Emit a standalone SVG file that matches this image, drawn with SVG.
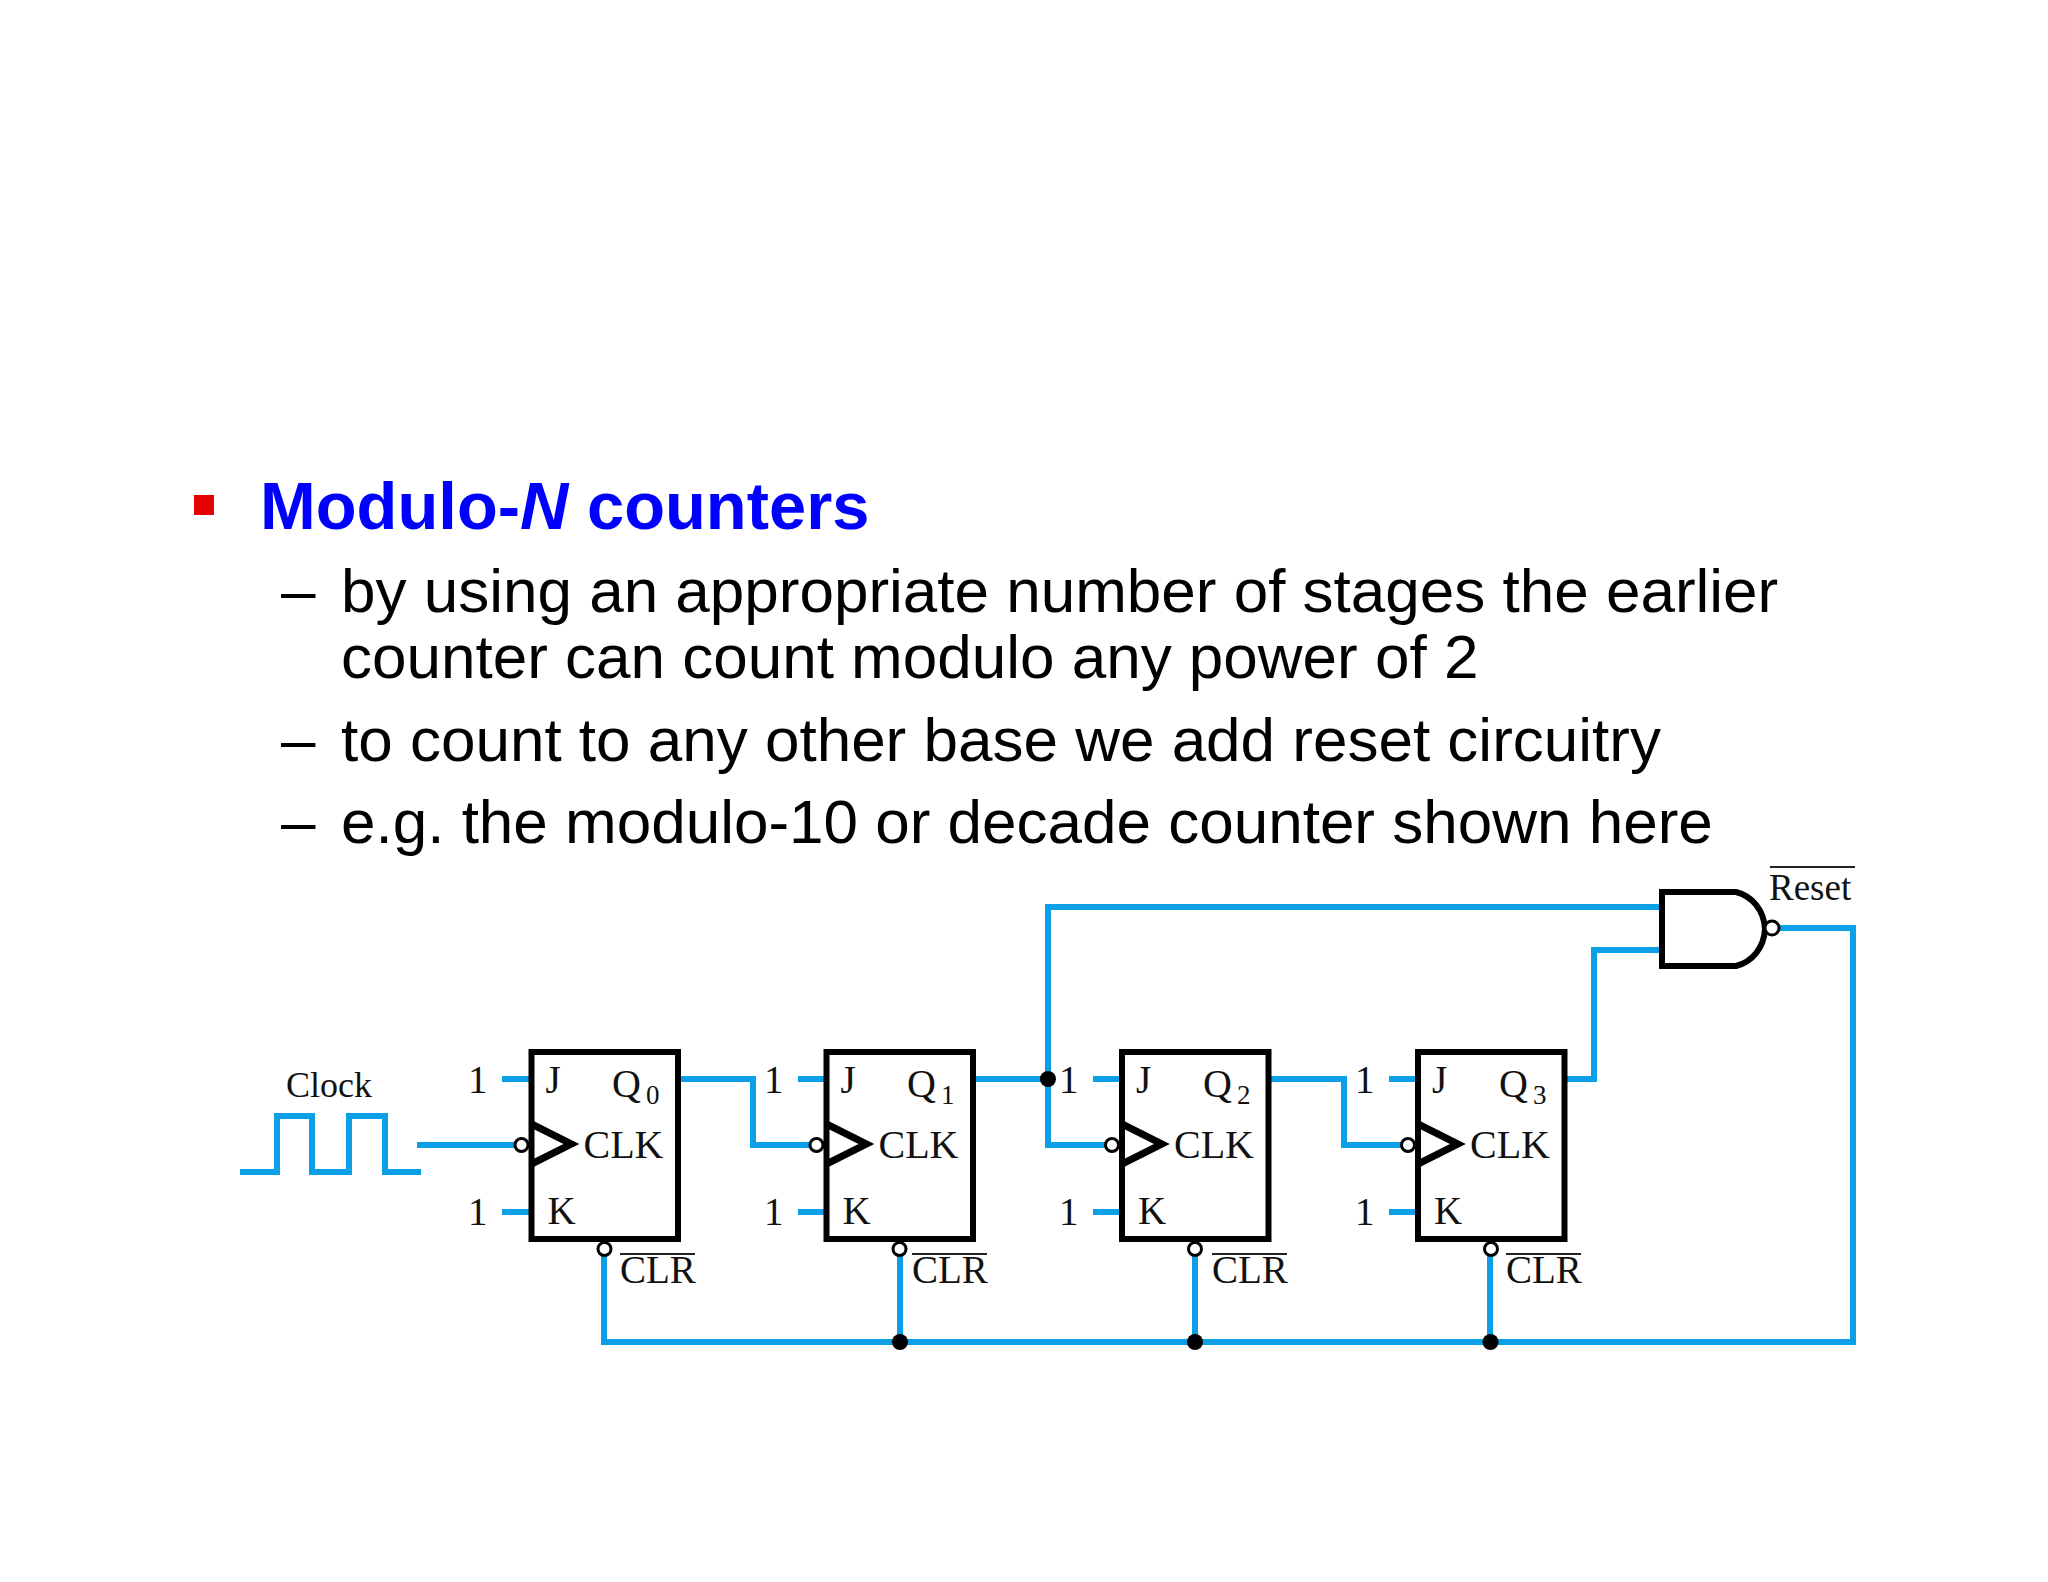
<svg xmlns="http://www.w3.org/2000/svg" xmlns:xlink="http://www.w3.org/1999/xlink" width="2048" height="1582" viewBox="0 0 2048 1582">
<style>
.h{font:bold 66.9px "Liberation Sans",Arial,sans-serif;fill:#0000ff}
.b{font:62px "Liberation Sans",Arial,sans-serif;fill:#000}
.s{font:39px "Liberation Serif","Times New Roman",serif;fill:#111}
.c{font:40px "Liberation Serif","Times New Roman",serif;fill:#111}
.l{font:36px "Liberation Serif","Times New Roman",serif;fill:#111}
.w{fill:none;stroke:#0a9fe6;stroke-width:6;stroke-linejoin:miter}
.k{fill:none;stroke:#000;stroke-width:6}
.bar{stroke:#222;stroke-width:2;fill:none}
.dot{fill:#000}
.bub{fill:#fff;stroke:#000;stroke-width:3}
</style>
<defs>
<g id="ff">
<rect class="k" x="0" y="0" width="146.500" height="187" fill="#fff"/>
<path class="k" d="M0 72 L40 92 L0 112" style="stroke-width:7"/>
<circle class="bub" cx="-10" cy="93" r="6.5"/>
<circle class="bub" cx="73" cy="197" r="6.500"/>
<text class="s" x="14" y="41">J</text>
<text class="c" x="52" y="106">CLK</text>
<text class="s" x="16" y="172">K</text>
</g>
</defs>
<rect width="2048" height="1582" fill="#fff"/>
<g id="text">
<rect x="194" y="495" width="20" height="20" fill="#e60000"/>
<text class="h" x="260" y="529">Modulo-<tspan font-style="italic">N</tspan> counters</text>
<text class="b" x="281" y="611.500">–</text>
<text class="b" x="341" y="611.500">by using an appropriate number of stages the earlier</text>
<text class="b" x="341" y="677.500">counter can count modulo any power of 2</text>
<text class="b" x="281" y="760.500">–</text>
<text class="b" x="341" y="760.500">to count to any other base we add reset circuitry</text>
<text class="b" x="281" y="842.500">–</text>
<text class="b" x="341" y="842.500">e.g. the modulo-10 or decade counter shown here</text>
</g>
<g id="connectors">
<path class="w" d="M240 1172H277V1116H312V1172H349V1116H385V1172H421"/>
<path class="w" d="M417 1145H515"/>
<path class="w" d="M502 1079H531M502 1212H531M798 1079H826M798 1212H826M1093 1079H1122M1093 1212H1122M1389 1079H1418M1389 1212H1418"/>
<path class="w" d="M680 1079H753V1145H811"/>
<path class="w" d="M975 1079H1048M1048 1079V907H1660M1048 1079V1145H1106"/>
<path class="w" d="M1270 1079H1344V1145H1402"/>
<path class="w" d="M1565 1079H1594V950H1660"/>
<path class="w" d="M1780 928H1853V1342H604V1246"/>
<path class="w" d="M900 1342V1246M1195 1342V1246M1490 1342V1246"/>
<circle class="dot" cx="1048" cy="1079" r="8"/>
<circle class="dot" cx="900" cy="1342" r="8"/>
<circle class="dot" cx="1195" cy="1342" r="8"/>
<circle class="dot" cx="1490.500" cy="1342" r="8"/>
</g>
<g id="clock"><text class="l" x="286" y="1097">Clock</text></g>
<g id="ff0"><use xlink:href="#ff" href="#ff" x="531.500" y="1052"/>
<text class="c" x="612" y="1097">Q<tspan font-size="27" dx="5" dy="7">0</tspan></text>
<text class="s" x="620" y="1283">CLR</text><path class="bar" d="M620 1254H695"/>
<text class="s" x="468" y="1093">1</text><text class="s" x="468" y="1225">1</text></g>
<g id="ff1"><use xlink:href="#ff" href="#ff" x="826.500" y="1052"/>
<text class="c" x="907" y="1097">Q<tspan font-size="27" dx="5" dy="7">1</tspan></text>
<text class="s" x="912" y="1283">CLR</text><path class="bar" d="M912 1254H987"/>
<text class="s" x="764" y="1093">1</text><text class="s" x="764" y="1225">1</text></g>
<g id="ff2"><use xlink:href="#ff" href="#ff" x="1122" y="1052"/>
<text class="c" x="1203" y="1097">Q<tspan font-size="27" dx="5" dy="7">2</tspan></text>
<text class="s" x="1212" y="1283">CLR</text><path class="bar" d="M1212 1254H1287"/>
<text class="s" x="1059" y="1093">1</text><text class="s" x="1059" y="1225">1</text></g>
<g id="ff3"><use xlink:href="#ff" href="#ff" x="1418" y="1052"/>
<text class="c" x="1499" y="1097">Q<tspan font-size="27" dx="5" dy="7">3</tspan></text>
<text class="s" x="1506" y="1283">CLR</text><path class="bar" d="M1506 1254H1581"/>
<text class="s" x="1355" y="1093">1</text><text class="s" x="1355" y="1225">1</text></g>
<g id="nand">
<path class="k" d="M1662 892H1736C1752 896 1764 910 1765 929 1764 948 1752 962 1736 966H1662Z" fill="#fff"/>
<circle class="bub" cx="1772" cy="928" r="7"/>
</g>
<g id="reset"><text class="s" x="1769" y="900" style="font-size:37px">Reset</text><path class="bar" d="M1770 867H1855"/></g>
</svg>
